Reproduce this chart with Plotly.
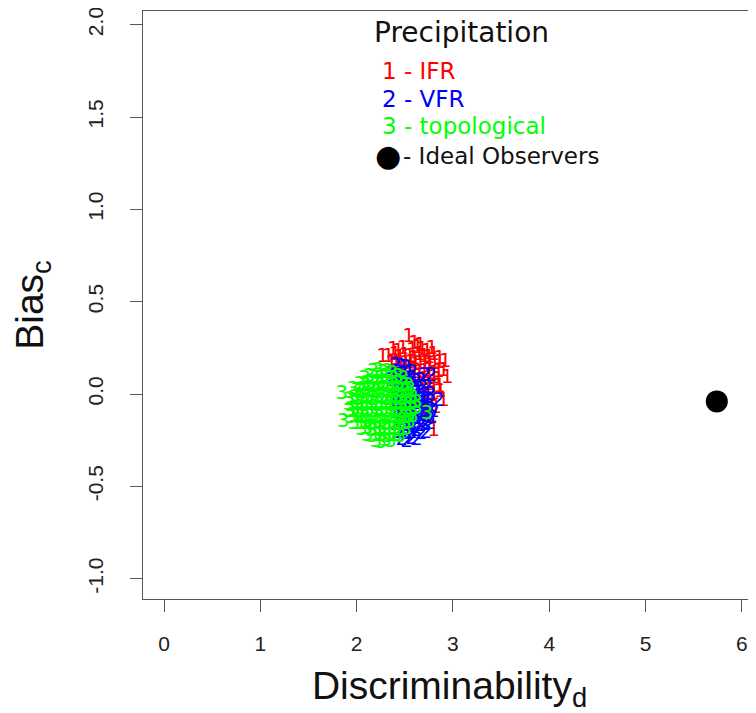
import plotly.graph_objects as go

# red "1" points - IFR
ifr_d = [2.54, 2.60, 2.66,
         2.38, 2.43, 2.48, 2.58, 2.63, 2.68, 2.73, 2.78,
         2.27, 2.33, 2.40, 2.45, 2.50, 2.55, 2.60, 2.65, 2.70, 2.75, 2.80, 2.86,
         2.36, 2.41, 2.46, 2.51, 2.56, 2.61, 2.66, 2.71, 2.76, 2.81, 2.86, 2.92,
         2.40, 2.45, 2.50, 2.55, 2.60, 2.65, 2.70, 2.75, 2.80, 2.85, 2.90,
         2.44, 2.50, 2.55, 2.60, 2.65, 2.70, 2.75, 2.80, 2.85, 2.94,
         2.50, 2.56, 2.62, 2.68, 2.74, 2.80, 2.86,
         2.56, 2.64, 2.72, 2.80, 2.87,
         2.62, 2.70, 2.78, 2.90,
         2.66, 2.74, 2.82,
         2.70, 2.78, 2.80]
ifr_c = [0.31, 0.27, 0.26,
         0.24, 0.23, 0.245, 0.235, 0.25, 0.24, 0.23, 0.245,
         0.20, 0.20, 0.21, 0.195, 0.205, 0.20, 0.19, 0.21, 0.20, 0.195, 0.21, 0.19,
         0.16, 0.165, 0.155, 0.16, 0.17, 0.155, 0.16, 0.165, 0.15, 0.16, 0.17, 0.175,
         0.12, 0.125, 0.115, 0.12, 0.13, 0.115, 0.12, 0.125, 0.11, 0.12, 0.125,
         0.08, 0.085, 0.075, 0.08, 0.09, 0.075, 0.08, 0.085, 0.075, 0.087,
         0.04, 0.045, 0.035, 0.04, 0.05, 0.035, 0.04,
         0.00, 0.005, -0.005, 0.00, 0.01,
         -0.04, -0.035, -0.045, -0.04,
         -0.08, -0.085, -0.075,
         -0.12, -0.125, -0.20]

# blue "2" points - VFR
vfr_d = [2.40, 2.46, 2.51,
         2.37, 2.42, 2.47, 2.52, 2.57, 2.71, 2.77,
         2.36, 2.41, 2.46, 2.51, 2.56, 2.61, 2.66,
         2.38, 2.43, 2.48, 2.53, 2.58, 2.63, 2.68, 2.73,
         2.41, 2.46, 2.51, 2.56, 2.61, 2.66, 2.71, 2.76,
         2.41, 2.46, 2.51, 2.56, 2.61, 2.66, 2.71, 2.76, 2.85,
         2.41, 2.46, 2.51, 2.56, 2.61, 2.66, 2.71, 2.76, 2.80,
         2.43, 2.48, 2.53, 2.58, 2.63, 2.68, 2.73, 2.78,
         2.41, 2.46, 2.51, 2.56, 2.61, 2.66, 2.71, 2.76,
         2.42, 2.47, 2.52, 2.57, 2.62, 2.67, 2.72,
         2.47, 2.52, 2.57, 2.62]
vfr_c = [0.15, 0.145, 0.14,
         0.11, 0.115, 0.105, 0.11, 0.115, 0.10, 0.10,
         0.07, 0.075, 0.065, 0.07, 0.08, 0.065, 0.07,
         0.03, 0.035, 0.025, 0.03, 0.04, 0.025, 0.03, 0.035,
         -0.01, -0.005, -0.015, -0.01, 0.00, -0.015, -0.01, -0.005,
         -0.05, -0.045, -0.055, -0.05, -0.04, -0.055, -0.05, -0.045, -0.04,
         -0.09, -0.085, -0.095, -0.09, -0.08, -0.095, -0.09, -0.085, -0.10,
         -0.13, -0.125, -0.135, -0.13, -0.12, -0.135, -0.125, -0.13,
         -0.17, -0.165, -0.175, -0.17, -0.16, -0.175, -0.17, -0.165,
         -0.21, -0.205, -0.215, -0.21, -0.20, -0.215, -0.21,
         -0.25, -0.26, -0.245, -0.25]

# green "3" points - topological
topo_d = [2.17, 2.22, 2.27, 2.32, 2.37,
          2.08, 2.13, 2.18, 2.23, 2.28, 2.33, 2.38, 2.43, 2.48,
          2.03, 2.08, 2.13, 2.18, 2.23, 2.28, 2.33, 2.38, 2.43, 2.48, 2.53,
          1.96, 2.00, 2.05, 2.10, 2.15, 2.20, 2.25, 2.30, 2.35, 2.40, 2.45, 2.50, 2.55,
          1.93, 1.98, 2.03, 2.08, 2.13, 2.18, 2.23, 2.28, 2.33, 2.38, 2.43, 2.48, 2.53, 2.58,
          1.92, 1.97, 2.02, 2.07, 2.12, 2.17, 2.22, 2.27, 2.32, 2.37, 2.42, 2.47, 2.52, 2.57, 2.62,
          1.92, 1.97, 2.02, 2.07, 2.12, 2.17, 2.22, 2.27, 2.32, 2.37, 2.42, 2.47, 2.52, 2.58, 2.62,
          1.94, 1.98, 2.03, 2.08, 2.13, 2.18, 2.23, 2.28, 2.33, 2.38, 2.43, 2.48, 2.53, 2.58,
          1.97, 2.01, 2.06, 2.11, 2.16, 2.21, 2.26, 2.31, 2.36, 2.41, 2.46, 2.51, 2.55,
          2.05, 2.10, 2.15, 2.20, 2.25, 2.30, 2.35, 2.40, 2.45, 2.51,
          2.11, 2.16, 2.21, 2.26, 2.31, 2.36, 2.41, 2.45,
          2.20, 2.25, 2.30, 2.35,
          1.845, 1.86, 2.73]
topo_c = [0.12, 0.125, 0.115, 0.12, 0.11,
          0.08, 0.09, 0.085, 0.08, 0.09, 0.085, 0.08, 0.09, 0.08,
          0.05, 0.045, 0.055, 0.05, 0.045, 0.055, 0.05, 0.045, 0.055, 0.05, 0.045,
          0.02, 0.015, 0.01, 0.02, 0.015, 0.01, 0.02, 0.015, 0.01, 0.02, 0.015, 0.01, 0.02,
          -0.03, -0.02, -0.025, -0.015, -0.02, -0.025, -0.015, -0.02, -0.025, -0.015, -0.02, -0.025, -0.015, -0.02,
          -0.06, -0.055, -0.05, -0.06, -0.055, -0.05, -0.06, -0.055, -0.05, -0.06, -0.055, -0.05, -0.06, -0.055, -0.05,
          -0.10, -0.09, -0.095, -0.085, -0.09, -0.095, -0.085, -0.09, -0.095, -0.085, -0.09, -0.095, -0.085, -0.09, -0.08,
          -0.13, -0.125, -0.12, -0.13, -0.125, -0.12, -0.13, -0.125, -0.12, -0.13, -0.125, -0.12, -0.13, -0.125,
          -0.16, -0.16, -0.165, -0.155, -0.16, -0.165, -0.155, -0.16, -0.165, -0.155, -0.16, -0.165, -0.155,
          -0.195, -0.19, -0.20, -0.195, -0.19, -0.20, -0.195, -0.19, -0.20, -0.195,
          -0.23, -0.235, -0.225, -0.23, -0.235, -0.225, -0.23, -0.235,
          -0.26, -0.265, -0.255, -0.26,
          0.00, -0.15, -0.11]

ideal_d = [5.74]
ideal_c = [-0.04]

x_ticks = [0, 1, 2, 3, 4, 5, 6]
y_ticks = [-1.0, -0.5, 0.0, 0.5, 1.0, 1.5, 2.0]
y_labels = ['-1.0', '-0.5', '0.0', '0.5', '1.0', '1.5', '2.0']

RED = '#ff0000'
BLUE = '#0000ff'
GREEN = '#00ff00'
DIGIT_FONT = 'DejaVu Sans'
AXIS_FONT = 'Liberation Sans, Arial'

fig = go.Figure()
for d, c, lab, col in [(ifr_d, ifr_c, '1', RED),
                       (vfr_d, vfr_c, '2', BLUE),
                       (topo_d, topo_c, '3', GREEN)]:
    fig.add_trace(go.Scatter(x=d, y=c, mode='text', text=[lab] * len(d),
                             textposition='middle center',
                             textfont=dict(family=DIGIT_FONT, size=20, color=col),
                             hoverinfo='skip'))

fig.add_trace(go.Scatter(x=ideal_d, y=ideal_c, mode='markers',
                         marker=dict(size=22, color='black')))

# legend drawn as plain text, like the R legend with bty="n"
legend_rows = [('1 - IFR', RED, 1.75), ('2 - VFR', BLUE, 1.60),
               ('3 - topological', GREEN, 1.45)]
fig.add_annotation(x=2.16, y=1.96, text='Precipitation', showarrow=False,
                   xanchor='left', yanchor='middle',
                   font=dict(family=DIGIT_FONT, size=28, color='#111111'))
for txt, col, yy in legend_rows:
    fig.add_annotation(x=2.24, y=yy, text=txt, showarrow=False,
                       xanchor='left', yanchor='middle',
                       font=dict(family=DIGIT_FONT, size=23, color=col))
fig.add_annotation(x=2.33, y=1.29, text='\u25CF', showarrow=False,
                   xanchor='center', yanchor='middle',
                   font=dict(family=DIGIT_FONT, size=30, color='black'))
fig.add_annotation(x=2.46, y=1.29, text='- Ideal Observers', showarrow=False,
                   xanchor='left', yanchor='middle',
                   font=dict(family=DIGIT_FONT, size=23, color='#111111'))

# page body adds 8px, so the figure is 8px smaller than the window
fig.update_layout(
    width=748, height=705,
    margin=dict(l=135, r=0, t=3, b=114),
    plot_bgcolor='white', paper_bgcolor='white',
    showlegend=False,
    xaxis=dict(range=[-0.218, 6.147], tickvals=x_ticks, automargin=False,
               ticks='outside', ticklen=12, tickcolor='#555555',
               showline=True, mirror=True, linecolor='#555555', linewidth=1.3,
               showgrid=False, zeroline=False,
               tickfont=dict(family=AXIS_FONT, size=21, color='#222222'),
               ticklabelstandoff=14, ticklabeloverflow='allow',
               title=dict(text='Discriminability<sub>d</sub>', standoff=19,
                          font=dict(family=AXIS_FONT, size=39, color='#111111'))),
    yaxis=dict(range=[-1.11, 2.074], tickvals=y_ticks, ticktext=y_labels,
               tickangle=-90, automargin=False,
               ticks='outside', ticklen=12, tickcolor='#555555',
               showline=True, linecolor='#555555', linewidth=1.3,
               showgrid=False, zeroline=False,
               tickfont=dict(family=AXIS_FONT, size=21, color='#222222'),
               ticklabelstandoff=18, ticklabeloverflow='allow',
               title=dict(text='Bias<sub>c</sub>', standoff=29,
                          font=dict(family=AXIS_FONT, size=39, color='#111111'))),
)

fig.write_html('out.html')
